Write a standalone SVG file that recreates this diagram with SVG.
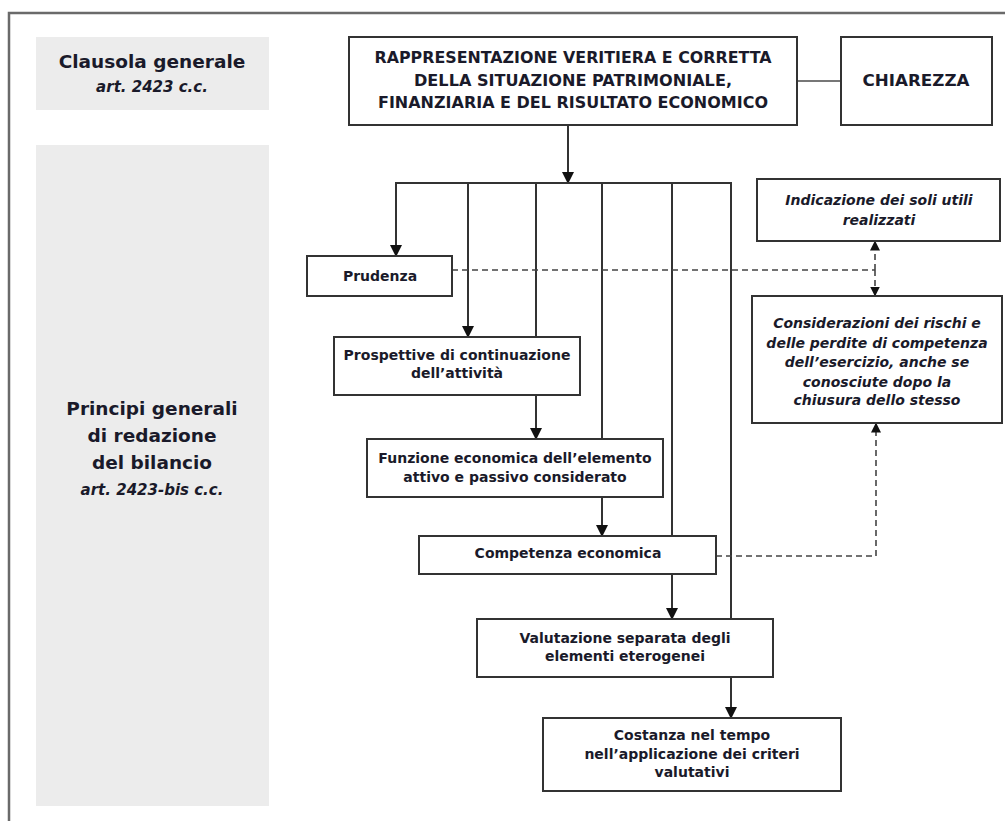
<svg xmlns="http://www.w3.org/2000/svg" width="1005" height="821" viewBox="0 0 1005 821">
  <defs>
    <marker id="arrow" viewBox="0 0 12 12" refX="11" refY="6" markerWidth="12" markerHeight="12" markerUnits="userSpaceOnUse" orient="auto">
      <path d="M0,0 L12,6 L0,12 Z" fill="#111"/>
    </marker>
    <marker id="arrowSmall" viewBox="0 0 10 10" refX="9.5" refY="5" markerWidth="10" markerHeight="10" markerUnits="userSpaceOnUse" orient="auto">
      <path d="M0,0 L10,5 L0,10 Z" fill="#111"/>
    </marker>
    <style>
      .frame { fill: none; stroke: #6a6a6a; stroke-width: 2.5; }
      .panel { fill: #ececec; }
      .box { fill: #ffffff; stroke: #333333; stroke-width: 2; }
      .line { fill: none; stroke: #333333; stroke-width: 2; }
      .link { fill: none; stroke: #777777; stroke-width: 2; }
      .dash { fill: none; stroke: #444444; stroke-width: 1.6; stroke-dasharray: 6 4; }
      text { font-family: "DejaVu Sans", "Liberation Sans", sans-serif; fill: #1a1a2a; text-anchor: middle; font-weight: bold; }
      .caps { font-size: 15px; }
      .lbl { font-size: 14px; }
      .ital { font-size: 14px; font-style: italic; }
      .side { font-size: 18.5px; }
      .sideit { font-size: 15px; font-style: italic; }
    </style>
  </defs>

  <!-- outer frame (top and left edges) -->
  <path class="frame" d="M9,821 L9,13 L1005,13"/>

  <!-- left column panels -->
  <g id="panel-clausola">
    <rect class="panel" x="36" y="37" width="233" height="73"/>
    <text class="side" x="152" y="68">Clausola generale</text>
    <text class="sideit" x="152" y="92">art. 2423 c.c.</text>
  </g>
  <g id="panel-principi">
    <rect class="panel" x="36" y="145" width="233" height="661"/>
    <text class="side" x="152" y="415">Principi generali</text>
    <text class="side" x="152" y="442">di redazione</text>
    <text class="side" x="152" y="469">del bilancio</text>
    <text class="sideit" x="152" y="495">art. 2423-bis c.c.</text>
  </g>

  <!-- connectors -->
  <g id="connectors">
    <line class="link" x1="797" y1="81" x2="841" y2="81"/>
    <line class="line" x1="568" y1="125" x2="568" y2="183" marker-end="url(#arrow)"/>
    <path class="line" d="M396,256 L396,183 L731,183 L731,619"/>
    <line class="line" x1="396" y1="190" x2="396" y2="256" marker-end="url(#arrow)"/>
    <line class="line" x1="468" y1="183" x2="468" y2="337" marker-end="url(#arrow)"/>
    <line class="line" x1="536" y1="183" x2="536" y2="337"/>
    <line class="line" x1="602" y1="183" x2="602" y2="439"/>
    <line class="line" x1="672" y1="183" x2="672" y2="536"/>
    <line class="line" x1="536" y1="395" x2="536" y2="439" marker-end="url(#arrow)"/>
    <line class="line" x1="602" y1="497" x2="602" y2="536" marker-end="url(#arrow)"/>
    <line class="line" x1="672" y1="574" x2="672" y2="619" marker-end="url(#arrow)"/>
    <line class="line" x1="731" y1="677" x2="731" y2="718" marker-end="url(#arrow)"/>
    <!-- dashed links -->
    <line class="dash" x1="452" y1="270" x2="875" y2="270"/>
    <line class="dash" x1="875" y1="270" x2="875" y2="241" marker-end="url(#arrowSmall)"/>
    <line class="dash" x1="875" y1="270" x2="875" y2="296" marker-end="url(#arrowSmall)"/>
    <path class="dash" d="M716,556 L876,556 L876,423" marker-end="url(#arrowSmall)"/>
  </g>

  <g id="node-rappresentazione">
    <rect class="box" x="349" y="37" width="448" height="88"/>
    <text class="caps" x="573" y="63" textLength="397" lengthAdjust="spacingAndGlyphs">RAPPRESENTAZIONE VERITIERA E CORRETTA</text>
    <text class="caps" x="573" y="86" textLength="318" lengthAdjust="spacingAndGlyphs">DELLA SITUAZIONE PATRIMONIALE,</text>
    <text class="caps" x="573" y="108" textLength="390" lengthAdjust="spacingAndGlyphs">FINANZIARIA E DEL RISULTATO ECONOMICO</text>
  </g>

  <g id="node-chiarezza">
    <rect class="box" x="841" y="37" width="151" height="88"/>
    <text class="caps" x="916" y="86" textLength="107" lengthAdjust="spacingAndGlyphs">CHIAREZZA</text>
  </g>

  <g id="node-prudenza">
    <rect class="box" x="307" y="256" width="145" height="40"/>
    <text class="lbl" x="380" y="281">Prudenza</text>
  </g>

  <g id="node-prospettive">
    <rect class="box" x="334" y="337" width="246" height="58"/>
    <text class="lbl" x="457" y="360">Prospettive di continuazione</text>
    <text class="lbl" x="457" y="378">dell’attività</text>
  </g>

  <g id="node-funzione">
    <rect class="box" x="367" y="439" width="296" height="58"/>
    <text class="lbl" x="515" y="463">Funzione economica dell’elemento</text>
    <text class="lbl" x="515" y="482">attivo e passivo considerato</text>
  </g>

  <g id="node-competenza">
    <rect class="box" x="419" y="536" width="297" height="38"/>
    <text class="lbl" x="568" y="558">Competenza economica</text>
  </g>

  <g id="node-valutazione">
    <rect class="box" x="477" y="619" width="296" height="58"/>
    <text class="lbl" x="625" y="643">Valutazione separata degli</text>
    <text class="lbl" x="625" y="661">elementi eterogenei</text>
  </g>

  <g id="node-costanza">
    <rect class="box" x="543" y="718" width="298" height="73"/>
    <text class="lbl" x="692" y="740">Costanza nel tempo</text>
    <text class="lbl" x="692" y="759">nell’applicazione dei criteri</text>
    <text class="lbl" x="692" y="777">valutativi</text>
  </g>

  <g id="node-indicazione">
    <rect class="box" x="757" y="179" width="243" height="62"/>
    <text class="ital" x="879" y="205">Indicazione dei soli utili</text>
    <text class="ital" x="879" y="225">realizzati</text>
  </g>

  <g id="node-considerazioni">
    <rect class="box" x="752" y="296" width="250" height="127"/>
    <text class="ital" x="877" y="328">Considerazioni dei rischi e</text>
    <text class="ital" x="877" y="348">delle perdite di competenza</text>
    <text class="ital" x="877" y="367">dell’esercizio, anche se</text>
    <text class="ital" x="877" y="387">conosciute dopo la</text>
    <text class="ital" x="877" y="405">chiusura dello stesso</text>
  </g>
</svg>
